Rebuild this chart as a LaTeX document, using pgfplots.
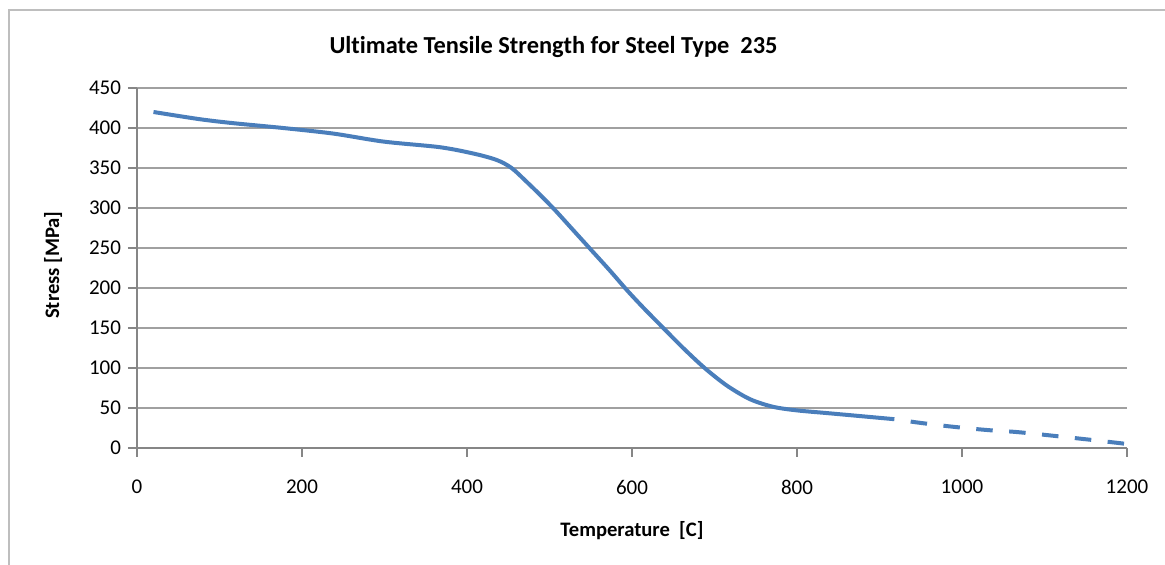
\documentclass[border=0pt]{standalone}
\usepackage{pgfplots}
\pgfplotsset{compat=1.18}
\usepackage{fontspec}
\setmainfont{Carlito}[Ligatures=NoCommon]
\usetikzlibrary{calc}
\definecolor{lineblue}{RGB}{74,126,187}
\definecolor{axisgray}{RGB}{134,134,134}
\definecolor{gridgray}{RGB}{160,160,160}
\definecolor{framegray}{RGB}{190,190,190}
\begin{document}
\begin{tikzpicture}
\begin{axis}[
  name=ax,
  scale only axis, width=495pt, height=180pt,
  xmin=0, xmax=1200, ymin=0, ymax=450,
  xtick={0,200,...,1200}, ytick={0,50,...,450},
  axis x line*=bottom, axis y line*=left,
  axis line style={draw=axisgray, line width=1.2pt},
  ymajorgrids, major grid style={draw=gridgray, line width=0.9pt},
  tick align=outside, major tick length=4.5pt,
  tick style={draw=axisgray, line width=1pt},
  /pgf/number format/assume math mode=true,
  /pgf/number format/1000 sep={},
  ticklabel style={font=\fontsize{10.5}{12}\selectfont, text=black},
  xticklabel style={anchor=center, yshift=-15pt},
  yticklabel style={anchor=east},
  clip=false,
]
\coordinate (O) at (rel axis cs:0,0);
\coordinate (T) at (rel axis cs:1,1);
\addplot[lineblue, line width=2pt, smooth, tension=0.5, line join=round] coordinates {
(20,420) (76,411) (117,406) (177,400) (238,393) (299,383) (367,376) (408,368)
(436,360) (454,350) (472,333) (490,315) (507,297) (529,272) (551,247) (573,222)
(595,196) (615,174) (636,152) (662,125) (688,100) (715,78) (743,61) (771,51.5)
(800,47) (840,43.3) (918,36)
};
\addplot[lineblue, line width=2pt, smooth, tension=0.5, dash pattern=on 8.25pt off 8.25pt, dash phase=8.25pt] coordinates {
(918,36) (945,32) (985,27) (1030,22.5) (1070,19.6) (1151,10.8) (1200,5)
};
\node[font=\bfseries\fontsize{12.2}{14}\selectfont, anchor=center] at (rel axis cs:0.4207,1.1139) {Ultimate Tensile Strength for Steel Type\ \ 235};
\node[font=\bfseries\fontsize{10.3}{12}\selectfont, anchor=center] at (rel axis cs:0.5,-0.2306) {Temperature\ \ [C]};
\node[font=\bfseries\fontsize{10.3}{12}\selectfont, anchor=center, rotate=90] at (rel axis cs:-0.0848,0.508) {Stress [MPa]};
\end{axis}
\draw[framegray, line width=1pt] ($(O)+(-64pt,-120pt)$) |- ($(T)+(60pt,39pt)$);
\pgfresetboundingbox
\path[use as bounding box] ($(O)+(-68.5pt,-58.5pt)$) rectangle ($(T)+(19pt,44pt)$);
\end{tikzpicture}
\end{document}
